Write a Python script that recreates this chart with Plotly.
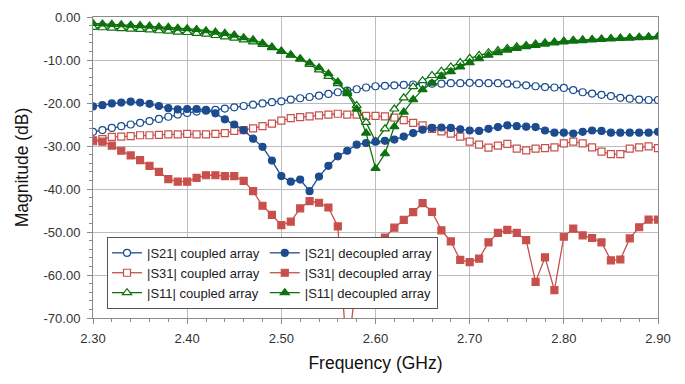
import plotly.graph_objects as go

# ---------------- data ----------------
freq_ghz = [round(2.30 + 0.01 * i, 2) for i in range(61)]

s21_coupled = [
    -26.7, -26.3, -25.8, -25.4, -25.0, -24.6, -24.2, -23.7, -23.2, -22.7, -22.3,
    -22.0, -21.8, -21.6, -21.3, -21.0, -20.7, -20.4, -20.1, -19.8, -19.6,
    -19.2, -18.9, -18.6, -18.3, -17.9, -17.5, -17.1, -16.8, -16.4, -16.1,
    -16.0, -15.9, -15.8, -15.7, -15.6, -15.5, -15.5, -15.4, -15.4, -15.3,
    -15.4, -15.4, -15.4, -15.5, -15.7, -15.9, -16.1, -16.3, -16.4, -16.5,
    -17.0, -17.5, -17.8, -18.1, -18.4, -18.8, -19.0, -19.2, -19.3, -19.3]

s21_decoupled = [
    -20.8, -20.5, -20.1, -19.9, -19.7, -19.9, -20.2, -20.7, -21.2, -21.5, -21.4,
    -21.4, -21.6, -22.4, -23.8, -25.0, -26.3, -28.3, -30.2, -33.4, -37.0,
    -38.3, -37.8, -40.5, -37.1, -34.6, -32.4, -31.1, -29.7, -29.3, -29.0,
    -28.8, -28.5, -27.8, -27.0, -26.2, -25.8, -25.7, -25.8, -26.1, -26.4,
    -26.5, -26.0, -25.6, -25.2, -25.4, -25.5, -25.6, -26.4, -26.9, -26.9,
    -27.1, -26.7, -26.4, -26.5, -26.9, -26.9, -26.9, -26.9, -26.9, -26.7]

s31_coupled = [
    -28.9, -28.4, -27.9, -27.8, -27.7, -27.5, -27.5, -27.4, -27.3, -27.3, -27.2,
    -27.3, -27.3, -27.2, -27.0, -26.5, -26.3, -25.9, -25.4, -24.8, -24.1,
    -23.5, -23.3, -23.1, -22.9, -22.7, -22.5, -22.7, -22.7, -23.0, -23.0,
    -23.1, -23.4, -24.0, -24.6, -25.2, -26.0, -26.6, -27.1, -27.8, -29.0,
    -29.7, -30.4, -29.9, -29.5, -30.6, -31.0, -30.6, -30.5, -30.3, -29.4,
    -29.0, -29.4, -30.3, -31.3, -31.9, -31.9, -30.6, -30.3, -30.1, -30.5]

s31_decoupled = [
    -28.7, -29.0, -29.9, -31.1, -32.2, -33.3, -34.6, -36.0, -37.7, -38.3, -38.3,
    -37.4, -36.8, -36.8, -37.0, -37.0, -38.1, -40.5, -43.9, -46.0, -48.4,
    -47.6, -44.5, -42.8, -43.2, -44.3, -48.7, -80.0, -60.0, -57.0, -54.0,
    -51.3, -49.0, -47.2, -45.4, -43.3, -45.3, -49.6, -52.2, -56.5, -57.0,
    -56.2, -52.4, -50.2, -49.5, -50.2, -51.9, -61.6, -55.9, -63.5, -51.1,
    -49.2, -50.8, -51.4, -52.4, -56.6, -56.4, -51.5, -48.9, -47.1, -47.1]

s11_coupled = [
    -2.4, -2.5, -2.6, -2.7, -2.8, -2.9, -3.0, -3.2, -3.3, -3.5, -3.6,
    -3.8, -4.0, -4.3, -4.6, -4.9, -5.3, -5.8, -6.4, -7.1, -8.0,
    -8.9, -9.8, -11.0, -12.3, -13.8, -15.5, -17.4, -20.6, -24.5, -28.9,
    -26.0, -21.4, -18.8, -16.2, -14.8, -13.6, -12.6, -11.6, -10.6, -9.6,
    -8.9, -8.3, -7.8, -7.3, -6.9, -6.6, -6.3, -6.0, -5.8, -5.6,
    -5.4, -5.3, -5.2, -5.1, -5.0, -4.9, -4.8, -4.7, -4.6, -4.5]

s11_decoupled = [
    -1.5, -1.6, -1.7, -1.8, -1.9, -2.0, -2.1, -2.3, -2.4, -2.6, -2.7,
    -2.9, -3.2, -3.5, -3.8, -4.2, -4.8, -5.3, -6.1, -7.0, -7.9,
    -8.8, -9.7, -10.7, -11.8, -13.2, -15.1, -17.8, -21.4, -27.0, -35.2,
    -31.8, -25.5, -22.1, -19.2, -16.9, -15.4, -13.8, -12.7, -11.6, -10.6,
    -9.7, -8.9, -8.3, -7.7, -7.3, -6.9, -6.6, -6.3, -6.0, -5.8,
    -5.6, -5.5, -5.3, -5.2, -5.1, -5.0, -4.9, -4.8, -4.7, -4.6]

x_tick_vals = [2.30, 2.40, 2.50, 2.60, 2.70, 2.80, 2.90]
x_tick_text = ["2.30", "2.40", "2.50", "2.60", "2.70", "2.80", "2.90"]
y_tick_vals = [0, -10, -20, -30, -40, -50, -60, -70]
y_tick_text = ["0.00", "-10.00", "-20.00", "-30.00", "-40.00", "-50.00", "-60.00", "-70.00"]

series_names = ["|S21| coupled array", "|S31| coupled array", "|S11| coupled array",
                "|S21| decoupled array", "|S31| decoupled array", "|S11| decoupled array"]

# ---------------- styles ----------------
BLUE = "#1c4b8f"
RED = "#c8504c"
GREEN = "#0d720d"

series = [
    (s21_coupled, series_names[0], BLUE, "circle", False, "coupled"),
    (s31_coupled, series_names[1], RED, "square", False, "coupled"),
    (s11_coupled, series_names[2], GREEN, "triangle-up", False, "coupled"),
    (s21_decoupled, series_names[3], BLUE, "circle", True, "decoupled"),
    (s31_decoupled, series_names[4], RED, "square", True, "decoupled"),
    (s11_decoupled, series_names[5], GREEN, "triangle-up", True, "decoupled"),
]

fig = go.Figure()
for vals, name, col, sym, filled, grp in series:
    fig.add_trace(go.Scatter(
        x=freq_ghz, y=vals, name=name, mode="lines+markers",
        legendgroup=grp,
        line=dict(color=col, width=1.3),
        marker=dict(symbol=sym, size=7 if sym != "triangle-up" else 8,
                    color=col if filled else "white",
                    line=dict(color=col, width=1.2)),
    ))

axis_font = dict(family="Arial, Liberation Sans, sans-serif", size=13, color="#333333")
title_font = dict(family="Arial, Liberation Sans, sans-serif", size=17.5, color="#111111")

fig.update_xaxes(
    range=[2.30, 2.90], tickmode="array", tickvals=x_tick_vals, ticktext=x_tick_text,
    showgrid=True, gridcolor="#bdbdbd", gridwidth=1,
    showline=True, linecolor="#8c8c8c", linewidth=1, mirror=True,
    ticks="outside", ticklen=5, tickcolor="#8c8c8c",
    minor=dict(tickmode="linear", tick0=2.30, dtick=0.02, ticks="outside", ticklen=3,
               tickcolor="#8c8c8c", showgrid=False),
    zeroline=False, tickfont=axis_font, ticklabelstandoff=3,
    title=dict(text="Frequency (GHz)", font=title_font, standoff=12),
)
fig.update_yaxes(
    range=[-70, 0], tickmode="array", tickvals=y_tick_vals, ticktext=y_tick_text,
    showgrid=True, gridcolor="#bdbdbd", gridwidth=1,
    showline=True, linecolor="#8c8c8c", linewidth=1, mirror=True,
    ticks="outside", ticklen=5, tickcolor="#8c8c8c",
    minor=dict(tickmode="linear", tick0=0, dtick=2, ticks="outside", ticklen=3,
               tickcolor="#8c8c8c", showgrid=False),
    zeroline=False, tickfont=axis_font, ticklabelstandoff=4,
    title=dict(text="Magnitude (dB)", font=title_font, standoff=10),
)

fig.update_layout(
    width=685, height=384,
    margin=dict(l=93, r=27, t=10, b=66),
    paper_bgcolor="white", plot_bgcolor="white",
    showlegend=True,
    legend=dict(
        orientation="h", traceorder="grouped",
        x=0.0248, y=0.2695, xanchor="left", yanchor="top",
        bgcolor="white", bordercolor="#555555", borderwidth=1,
        font=dict(family="Arial, Liberation Sans, sans-serif", size=13, color="#222222"),
    ),
)

fig.write_html("out.html")
